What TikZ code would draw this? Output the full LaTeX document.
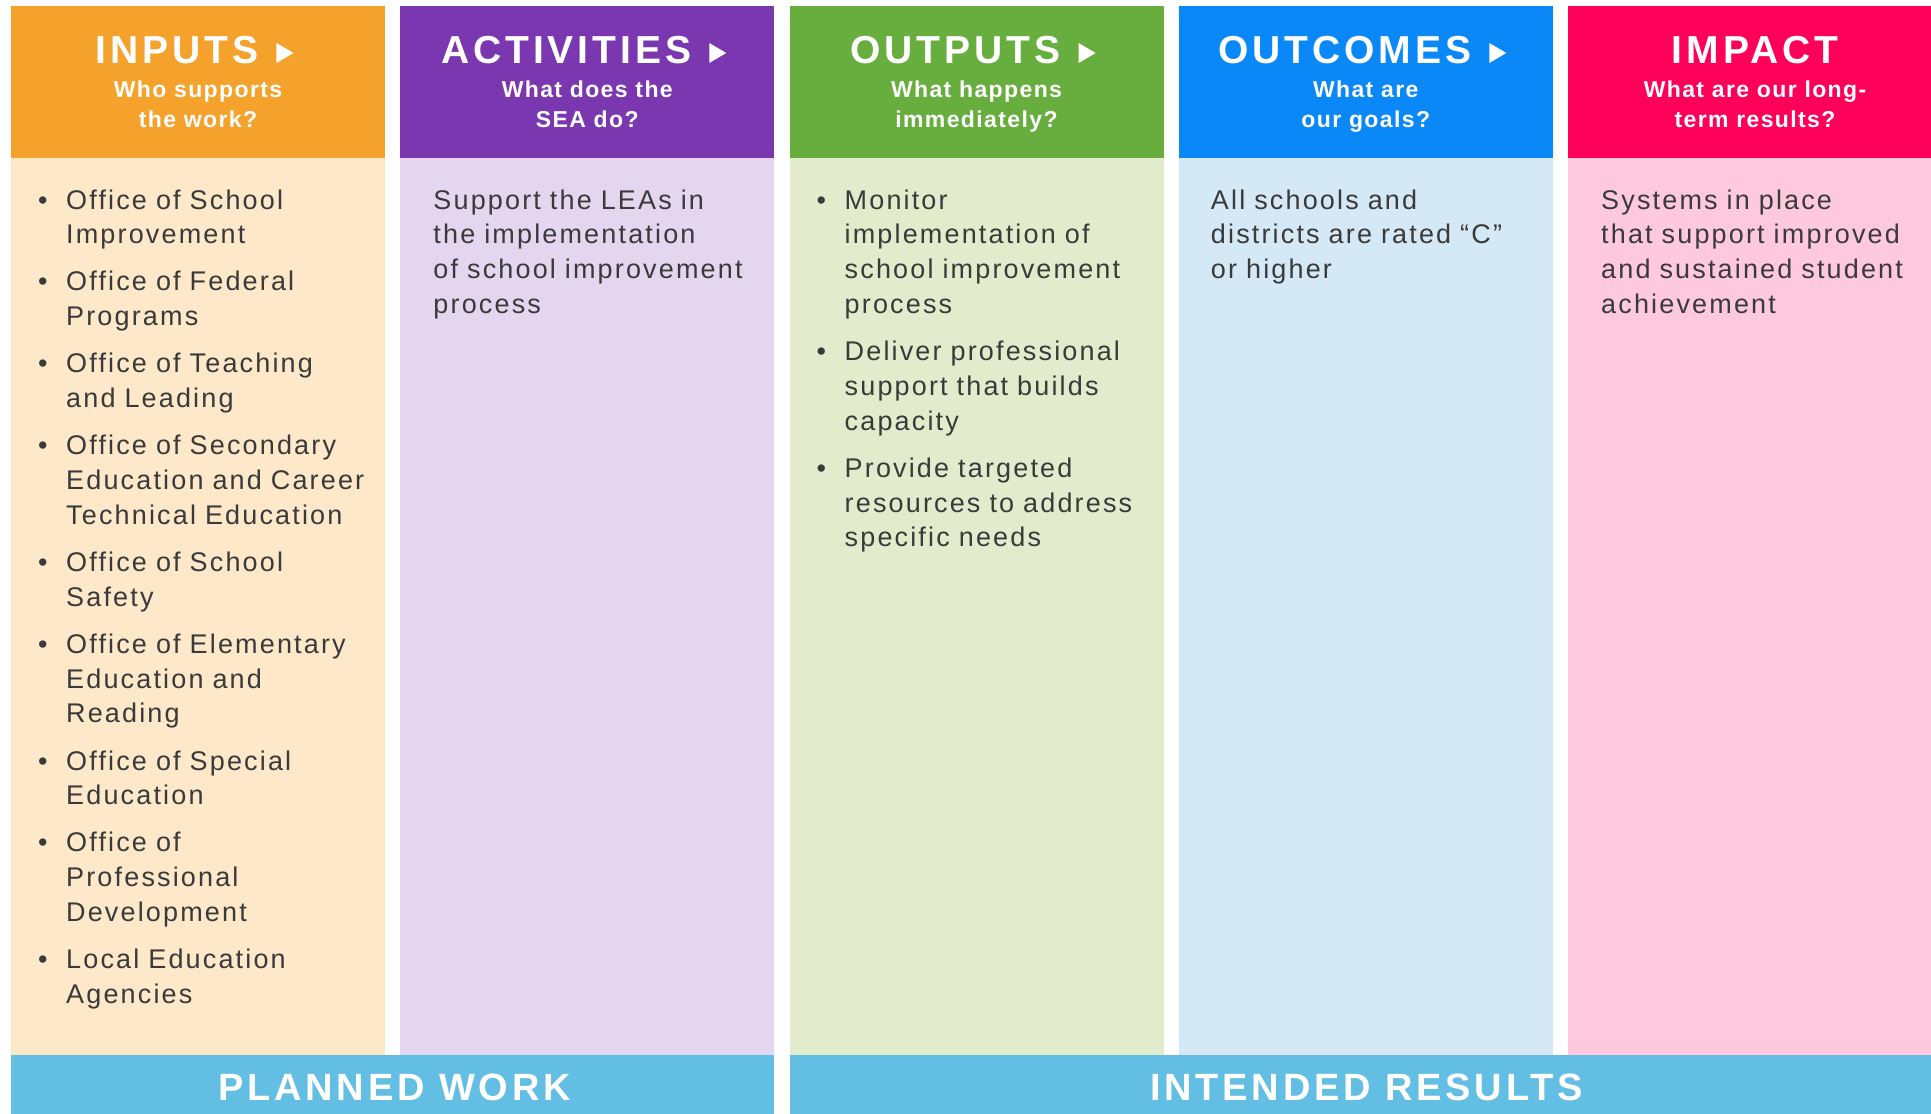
\documentclass[tikz,border=0pt]{standalone}
\usepackage{fontspec}
\setmainfont{Liberation Sans}
\newfontfamily\headfont{Liberation Sans}[LetterSpace=10]
\newfontfamily\subfont{Liberation Sans}[LetterSpace=6]
\newfontfamily\bodyfont{Liberation Sans}[LetterSpace=8]
\usetikzlibrary{positioning}
\definecolor{inorange}{HTML}{F5A22D}
\definecolor{inpeach}{HTML}{FDE8C9}
\definecolor{actpurple}{HTML}{7B37AF}
\definecolor{actlilac}{HTML}{E5D6F0}
\definecolor{outgreen}{HTML}{67AE3E}
\definecolor{outsage}{HTML}{E2ECCC}
\definecolor{ocblue}{HTML}{0A88F7}
\definecolor{ocsky}{HTML}{D4E9F5}
\definecolor{imppink}{HTML}{FF0058}
\definecolor{improse}{HTML}{FEC9DC}
\definecolor{bandblue}{HTML}{63BEE3}
\definecolor{textgray}{HTML}{3A3A3A}
% one bulleted entry, continuation lines hang under the text
\newcommand{\entry}[1]{\hangindent=33pt\hangafter=0\noindent\llap{\makebox[33pt][l]{\hspace{5pt}\textbullet}}#1\par}
\newcommand{\entrygap}{\vspace{12.3pt}}
\tikzset{
  colhead/.style={rectangle, inner sep=0pt, outer sep=0pt, minimum width=374pt, minimum height=152pt},
  colbody/.style={rectangle, inner sep=0pt, outer sep=0pt, minimum width=374pt, minimum height=897pt},
  headtitle/.style={anchor=base, inner sep=0pt, text=white, font=\headfont\bfseries\fontsize{39}{40}\selectfont},
  headsub/.style={anchor=base, inner sep=0pt, text=white, align=center, font=\subfont\bfseries\fontsize{23}{30}\selectfont},
  bodytext/.style={anchor=base west, inner sep=0pt, text width=340pt, text=textgray, font=\bodyfont\fontsize{27}{34.8}\selectfont},
  bandbar/.style={rectangle, inner sep=0pt, outer sep=0pt, minimum height=64pt, fill=bandblue},
  bandlabel/.style={inner sep=0pt, text=white, font=\headfont\bfseries\fontsize{38}{40}\selectfont},
}

\begin{document}
\begin{tikzpicture}[x=1pt, y=-1pt]
  \useasboundingbox (0,0) rectangle (1931,1114);
  \clip (0,0) rectangle (1931,1114);
  \fill[white] (0,0) rectangle (1931,1114);

  % coloured column heads
  \node[colhead, fill=inorange, anchor=north west] (inhead) at (11,6) {};
  \node[colhead, fill=actpurple, right=15.25pt of inhead] (acthead) {};
  \node[colhead, fill=outgreen, right=15.25pt of acthead] (outhead) {};
  \node[colhead, fill=ocblue, right=15.25pt of outhead] (ochead) {};
  \node[colhead, fill=imppink, right=15.25pt of ochead] (imphead) {};

  % pale column bodies
  \node[colbody, fill=inpeach, below=0pt of inhead] (inbody) {};
  \node[colbody, fill=actlilac, below=0pt of acthead] (actbody) {};
  \node[colbody, fill=outsage, below=0pt of outhead] (outbody) {};
  \node[colbody, fill=ocsky, below=0pt of ochead] (ocbody) {};
  \node[colbody, fill=improse, below=0pt of imphead] (impbody) {};

  % head titles and questions
  \node[headtitle, xshift=-21pt] (intitle) at ([yshift=-57pt]inhead.north) {INPUTS};
  \fill[white] ([xshift=18pt]intitle.base east) -- ++(0,-20) -- ++(17,10) -- cycle;
  \node[headsub] (insub) at ([yshift=-121pt]inhead.north) {Who supports\\the work?};

  \node[headtitle, xshift=-21pt] (acttitle) at ([yshift=-57pt]acthead.north) {ACTIVITIES};
  \fill[white] ([xshift=18pt]acttitle.base east) -- ++(0,-20) -- ++(17,10) -- cycle;
  \node[headsub] (actsub) at ([yshift=-121pt]acthead.north) {What does the\\SEA do?};

  \node[headtitle, xshift=-21pt] (outtitle) at ([yshift=-57pt]outhead.north) {OUTPUTS};
  \fill[white] ([xshift=18pt]outtitle.base east) -- ++(0,-20) -- ++(17,10) -- cycle;
  \node[headsub] (outsub) at ([yshift=-121pt]outhead.north) {What happens\\immediately?};

  \node[headtitle, xshift=-21pt] (octitle) at ([yshift=-57pt]ochead.north) {OUTCOMES};
  \fill[white] ([xshift=18pt]octitle.base east) -- ++(0,-20) -- ++(17,10) -- cycle;
  \node[headsub] (ocsub) at ([yshift=-121pt]ochead.north) {What are\\our goals?};

  \node[headtitle] (imptitle) at ([yshift=-57pt]imphead.north) {IMPACT};
  \node[headsub] (impsub) at ([yshift=-121pt]imphead.north) {What are our long-\\term results?};

  % column contents
  \node[bodytext] (inlist) at ([xshift=22pt, yshift=-51pt]inbody.north west) {%
    \entry{Office of School\newline Improvement}\entrygap
    \entry{Office of Federal\newline Programs}\entrygap
    \entry{Office of Teaching\newline and Leading}\entrygap
    \entry{Office of Secondary\newline Education and Career\newline Technical Education}\entrygap
    \entry{Office of School\newline Safety}\entrygap
    \entry{Office of Elementary\newline Education and\newline Reading}\entrygap
    \entry{Office of Special\newline Education}\entrygap
    \entry{Office of\newline Professional\newline Development}\entrygap
    \entry{Local Education\newline Agencies}};
  \node[bodytext] (actlist) at ([xshift=33pt, yshift=-51pt]actbody.north west)
    {Support the LEAs in\newline the implementation\newline of school improvement\newline process};
  \node[bodytext] (outlist) at ([xshift=22pt, yshift=-51pt]outbody.north west) {%
    \entry{Monitor\newline implementation of\newline school improvement\newline process}\entrygap
    \entry{Deliver professional\newline support that builds\newline capacity}\entrygap
    \entry{Provide targeted\newline resources to address\newline specific needs}};
  \node[bodytext] (oclist) at ([xshift=32pt, yshift=-51pt]ocbody.north west)
    {All schools and\newline districts are rated “C”\newline or higher};
  \node[bodytext] (implist) at ([xshift=33pt, yshift=-51pt]impbody.north west)
    {Systems in place\newline that support improved\newline and sustained student\newline achievement};

  % bottom bands
  \node[bandbar, minimum width=763.25pt, anchor=north west] (planbar) at (inbody.south west) {};
  \node[bandbar, minimum width=1152pt, anchor=north west] (resbar) at (outbody.south west) {};
  \node[bandlabel] (planlabel) at ([xshift=2pt]planbar.center) {PLANNED WORK};
  \node[bandlabel] (reslabel) at ([xshift=1pt]resbar.center) {INTENDED RESULTS};
\end{tikzpicture}
\end{document}
